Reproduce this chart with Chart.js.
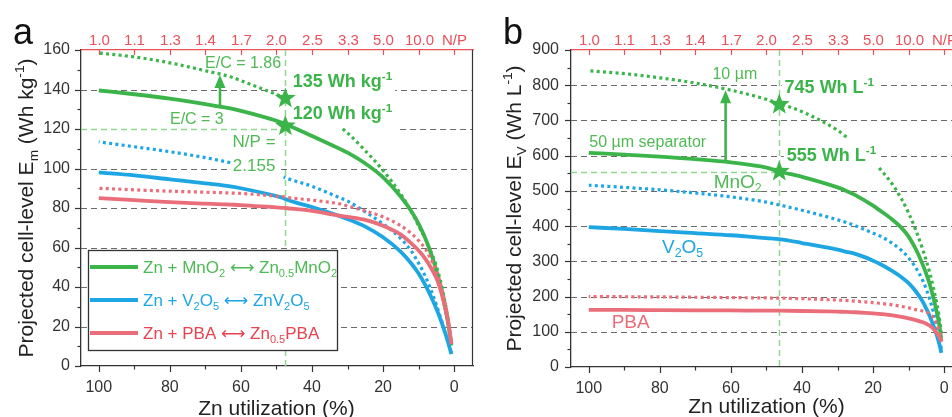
<!DOCTYPE html>
<html><head><meta charset="utf-8">
<script src="https://cdn.jsdelivr.net/npm/chart.js@4"></script>
<style>
html,body{margin:0;padding:0;background:#fff;overflow:hidden;width:952px;height:417px;}
#p1{position:absolute;left:0;top:0;}
#p2{position:absolute;left:480px;top:0;}
</style></head><body>
<canvas id="p1" width="480" height="417"></canvas>
<canvas id="p2" width="500" height="417"></canvas>
<script>
// ---------- DATA ----------
// Zn utilization (%) sample points, panel a
const utilA = [100, 90, 80, 70, 63, 60, 50, 48, 47.5, 40, 32, 30, 25, 20, 15, 12, 10, 8, 6, 5, 4, 3, 2, 1.5, 1, 0.8];
const mno2SolidA = [139.5,137.6,135.4,132.6,130.4,129.2,124.2,122.9,122.5,116.5,109.8,108,102.5,95.5,85.7,78.2,72,64.2,54.2,48.2,41.4,33.6,24.6,19.4,13.4,10.4];
const mno2DotA   = [158.5,156.5,153.5,149.5,146.5,144.5,137.5,136,135.5,null,121,118,109,99,87,78,71,64,55.5,50.5,44,36,27,21.5,14.5,10.5];
const v2o5SolidA = [98,96.5,94.5,92.5,91,90,86,85,84.5,80.5,75.8,74.5,70.6,65.2,57.8,51.8,46.8,40.6,33.2,29,24.4,19.3,13.7,10.6,7.4,6];
const v2o5DotA   = [113.5,111,108.5,105.5,103,null,null,95.7,95.3,91,85,83.5,78,72,64.5,58,52,45,36,31,25.5,20,14,11,8,6.5];
const pbaSolidA  = [85,84,83,82.2,81.7,81.5,80.3,80.1,80,78.5,76,75.5,74,71,66.5,62,58.5,54,48,44.5,39.5,33,25,20,14,11];
const pbaDotA    = [90,89.2,88.5,88,87.6,87.4,86,85.7,85.5,84,82,81,78.5,75.5,71,67,63.5,59,52,48,42.5,35.5,27,21.5,15,12];

// Zn utilization (%) sample points, panel b
const utilB = [100, 90, 80, 70, 60, 50, 46.4, 40, 30, 27.5, 25, 20, 18.3, 15, 12, 10, 8, 6, 5, 4, 3, 2, 1.5, 1, 0.8];
const mno2SolidB = [608,603,597,590,581,566,555,540,510,500,488,458,446,422,395,370,335,290,264,233,196,152,127,92,74];
const mno2DotB   = [841,833,821,806,786,760,748,725,672,653,null,null,565,525,477,437,389,333,301,265,224,176,148,113,95];
const v2o5DotB   = [516,510,503,494,483,468,460,445,418,410,401,380,373,354,331,310,282,245,220,190,155,113,90,64,52];
const v2o5SolidB = [397,392,386,380,374,366,363,352,333,327,321,302,294,275,255,238,215,185,165,143,117,88,70,50,40];
const pbaDotB    = [200,199.5,199,198,197,196,195.5,194,190,189,187,183,181,177,172,168,163,159,156,150,140,118,105,85,72];
const pbaSolidB  = [162,162,161.5,161,160.5,160,159.8,159,157,156.5,155.5,152,151,147,142,138,133,127,123,117,108,95,88,78,72];

// axis ticks
const xMajorTicks = [0, 20, 40, 60, 80, 100];
const xMinorTicks = [10, 30, 50, 70, 90];
const npTickUtil = [100, 90, 80, 70, 60, 50, 40, 30, 20, 10, 0];
const npLabels = ['1.0','1.1','1.3','1.4','1.7','2.0','2.5','3.3','5.0','10.0','N/P'];
const yTicksA = [0,20,40,60,80,100,120,140,160];
const yMinorA = [10,30,50,70,90,110,130,150];
const yTicksB = [0,100,200,300,400,500,600,700,800,900];
const yMinorB = [50,150,250,350,450,550,650,750,850];

// highlighted points (N/P = 2.155)
const starsA = [[47.5,135.5],[47.5,121.5]];
const starsB = [[46.4,745],[46.4,555]];

// ---------- STYLE ----------
const FAM = "'Liberation Sans', Arial, Helvetica, 'DejaVu Sans', sans-serif";
const GREEN = '#3bb44a', GREEN_T = '#4fba55', GREEN_REF = '#8fd68f';
const BLUE = '#1ea6e3', PINK = '#ea6e79', RED_T = '#e8434e', AXRED = '#e8505a';
const AX = '#333333', GRID = '#6a6a6a';
const ARROW = ' \u27F7 ';

Chart.defaults.font.family = FAM;
Chart.defaults.color = '#333';

function ds(U, V, color, dotted){
  const pts = U.map((u,i)=>({x:u, y:V[i]})).reverse();
  return {data: pts, borderColor: color, borderWidth: dotted ? 3.2 : 3.8,
    borderDash: dotted ? [3,3.3] : [], borderCapStyle:'butt',
    pointRadius:0, cubicInterpolationMode:'monotone', spanGaps:false, fill:false};
}

function measureRich(ctx, segs, size, weight){
  let w = 0;
  segs.forEach(([t,m])=>{ const s = m ? size*0.65 : size; ctx.font = `${weight} ${s}px ${FAM}`; w += ctx.measureText(t).width; });
  return w;
}
function drawRich(ctx, x, y, segs, size, weight, color, align){
  const w = measureRich(ctx, segs, size, weight);
  let cx = align==='center' ? x - w/2 : align==='right' ? x - w : x;
  const base = y + size*0.36;
  ctx.fillStyle = color; ctx.textBaseline = 'alphabetic'; ctx.textAlign = 'left';
  segs.forEach(([t,m])=>{
    const s = m ? size*0.65 : size;
    ctx.font = `${weight} ${s}px ${FAM}`;
    const by = base + (m==='sub' ? size*0.24 : m==='sup' ? -size*0.42 : 0);
    ctx.fillText(t, cx, by);
    cx += ctx.measureText(t).width;
  });
  return w;
}
function drawStar(ctx, cx, cy, R, r){
  ctx.beginPath();
  for(let i=0;i<10;i++){
    const ang = -Math.PI/2 + i*Math.PI/5;
    const rad = i%2===0 ? R : r;
    const px = cx + rad*Math.cos(ang), py = cy + rad*Math.sin(ang);
    if(i===0) ctx.moveTo(px,py); else ctx.lineTo(px,py);
  }
  ctx.closePath(); ctx.fill();
}
function line(ctx,x0,y0,x1,y1){ctx.beginPath();ctx.moveTo(x0,y0);ctx.lineTo(x1,y1);ctx.stroke();}

function labelBox(ctx, L, x, y){
  const w = measureRich(ctx, L.segs, L.size, L.weight||'normal');
  let left = L.align==='center' ? x - w/2 : L.align==='right' ? x - w : x;
  return {x:left-3, y:y-L.size*0.75, w:w+6, h:L.size*1.45};
}

function makePlugin(cfg){
  return {
    id:'panel'+cfg.letter,
    beforeDatasetsDraw(chart){
      const {ctx, chartArea:a, scales:{x,y}} = chart;
      ctx.save();
      ctx.strokeStyle = GRID; ctx.lineWidth = 1.2; ctx.setLineDash([6,4]);
      cfg.gridVals.forEach(v=>{
        const py = Math.round(y.getPixelForValue(v))+0.5;
        const x0 = cfg.gridFrom && cfg.gridFrom[v]!=null ? x.getPixelForValue(cfg.gridFrom[v]) : a.left;
        line(ctx, x0, py, a.right, py);
      });
      ctx.setLineDash([]);
      ctx.fillStyle = '#fff';
      cfg.labels.forEach(L=>{
        if(!L.box) return;
        const b = labelBox(ctx, L, x.getPixelForValue(L.u), y.getPixelForValue(L.e));
        ctx.fillRect(b.x, b.y, b.w, b.h);
      });
      ctx.strokeStyle = GREEN_REF; ctx.lineWidth = 1.5; ctx.setLineDash([6,4]);
      const vx = Math.round(x.getPixelForValue(cfg.vRef))+0.5;
      line(ctx, vx, a.top, vx, a.bottom);
      const hy = Math.round(y.getPixelForValue(cfg.hRef[1]))+0.5;
      line(ctx, a.left, hy, x.getPixelForValue(cfg.hRef[0]), hy);
      ctx.restore();
    },
    afterDatasetsDraw(chart){
      const {ctx, chartArea:a, scales:{x,y}} = chart;
      ctx.save();
      cfg.labels.forEach(L=>{
        drawRich(ctx, x.getPixelForValue(L.u), y.getPixelForValue(L.e), L.segs, L.size, L.weight||'normal', L.color, L.align);
      });
      ctx.strokeStyle = GREEN; ctx.fillStyle = GREEN; ctx.lineWidth = 2.6;
      cfg.arrows.forEach(([u,e0,e1])=>{
        const px = x.getPixelForValue(u), y0 = y.getPixelForValue(e0), y1 = y.getPixelForValue(e1);
        line(ctx, px, y0, px, y1+10);
        ctx.beginPath(); ctx.moveTo(px, y1); ctx.lineTo(px-5.5, y1+13); ctx.lineTo(px+5.5, y1+13); ctx.closePath(); ctx.fill();
      });
      ctx.fillStyle = GREEN;
      cfg.stars.forEach(([u,e])=> drawStar(ctx, x.getPixelForValue(u), y.getPixelForValue(e), 11, 4.6));
      if(cfg.legend){
        const L = cfg.legend;
        ctx.fillStyle = '#fff'; ctx.fillRect(L.x, L.y, L.w, L.h);
        ctx.strokeStyle = AX; ctx.lineWidth = 1.3; ctx.strokeRect(L.x+0.5, L.y+0.5, L.w, L.h);
        L.rows.forEach((r,i)=>{
          const ry = L.y + L.first + i*L.step;
          ctx.strokeStyle = r.line; ctx.lineWidth = 4.2;
          line(ctx, L.x+2, ry, L.x+50, ry);
          drawRich(ctx, L.x+55, ry, r.segs, 17, 'normal', r.text, 'left');
        });
      }
      ctx.strokeStyle = AX; ctx.lineWidth = 1.2;
      xMajorTicks.forEach(v=>{ const p = Math.round(x.getPixelForValue(v))+0.5; line(ctx,p,a.bottom,p,a.bottom+6); });
      xMinorTicks.forEach(v=>{ const p = Math.round(x.getPixelForValue(v))+0.5; line(ctx,p,a.bottom,p,a.bottom+3.5); });
      cfg.yMajor.forEach(v=>{ const p = Math.round(y.getPixelForValue(v))+0.5; line(ctx,a.left-6,p,a.left,p); });
      cfg.yMinor.forEach(v=>{ const p = Math.round(y.getPixelForValue(v))+0.5; line(ctx,a.left-3.5,p,a.left,p); });
      line(ctx, Math.round(a.right)-0.5, a.top, Math.round(a.right)-0.5, a.bottom);
      ctx.strokeStyle = AXRED;
      npTickUtil.forEach((v,i)=>{
        const p = Math.round(x.getPixelForValue(v))+0.5;
        line(ctx,p,a.top,p,a.top+5);
        drawRich(ctx, p, 40, [[npLabels[i],'']], 15, 'normal', AXRED, 'center');
      });
      drawRich(ctx, x.getPixelForValue(cfg.xTitleU), cfg.xTitleY, [['Zn utilization (%)','']], 21, 'normal', '#222', 'center');
      ctx.save(); ctx.translate(cfg.yTitleX, (a.top+a.bottom)/2); ctx.rotate(-Math.PI/2);
      drawRich(ctx, 0, 0, cfg.yTitle, 21, 'normal', '#222', 'center');
      ctx.restore();
      ctx.fillStyle = '#111'; ctx.font = `36px ${FAM}`; ctx.textAlign='left'; ctx.textBaseline='alphabetic';
      ctx.fillText(cfg.letter, cfg.letterX, 44);
      ctx.restore();
    }
  };
}

function scales(yMax, yTicks, yWidth, xHeight, yPad){
  return {
    x: {type:'linear', position:'bottom', min:-5.3, max:105, reverse:true,
        grid:{display:false, drawTicks:false}, border:{display:true, color:AX, width:1.3},
        ticks:{font:{size:16}, color:'#333', padding:12, autoSkip:false, maxRotation:0, minRotation:0},
        afterBuildTicks: s => { s.ticks = xMajorTicks.map(v=>({value:v})); },
        afterFit: s => { s.height = xHeight; }},
    xTop: {type:'linear', position:'top', min:-5.3, max:105, reverse:true,
        grid:{display:false, drawTicks:false}, border:{display:true, color:AXRED, width:1.3},
        ticks:{display:false},
        afterFit: s => { s.height = 50; }},
    y: {type:'linear', position:'left', min:0, max:yMax,
        grid:{display:false, drawTicks:false}, border:{display:true, color:AX, width:1.3},
        ticks:{font:{size:16}, color:'#333', padding:yPad},
        afterBuildTicks: s => { s.ticks = yTicks.map(v=>({value:v})); },
        afterFit: s => { s.width = yWidth; }}
  };
}

// ---------- PANEL a ----------
const cfgA = {
  letter:'a', letterX:13, yTitleX:25, xTitleU:50, xTitleY:407,
  yTitle:[['Projected cell-level E',''],['m','sub'],[' (Wh kg',''],['-1','sup'],[')','']],
  yMajor:yTicksA, yMinor:yMinorA,
  gridVals:[20,40,60,80,100,120,140], gridFrom:{120:15.2},
  vRef:47.5, hRef:[47.5,120],
  stars:starsA,
  arrows:[[65.9,131.5,147.3]],
  labels:[
    {u:59.4, e:153.9, segs:[['E/C = 1.86','']], size:16, color:GREEN_T, align:'center'},
    {u:72.4, e:125.6, segs:[['E/C = 3','']], size:16, color:GREEN_T, align:'center'},
    {u:45.4, e:144.3, segs:[['135 Wh kg',''],['-1','sup']], size:18, weight:'bold', color:GREEN, align:'left', box:true},
    {u:45.4, e:128.1, segs:[['120 Wh kg',''],['-1','sup']], size:18, weight:'bold', color:GREEN, align:'left', box:true},
    {u:56.3, e:113.9, segs:[['N/P =','']], size:17, color:GREEN_T, align:'center', box:true},
    {u:56.3, e:102, segs:[['2.155','']], size:17, color:GREEN_T, align:'center', box:true}
  ],
  legend:{x:88, y:250, w:249, h:100, first:17, step:33, rows:[
    {line:GREEN, text:GREEN_T, segs:[['Zn + MnO',''],['2','sub'],[ARROW+'Zn',''],['0.5','sub'],['MnO',''],['2','sub']]},
    {line:BLUE, text:BLUE, segs:[['Zn + V',''],['2','sub'],['O',''],['5','sub'],[ARROW+'ZnV',''],['2','sub'],['O',''],['5','sub']]},
    {line:PINK, text:RED_T, segs:[['Zn + PBA'+ARROW+'Zn',''],['0.5','sub'],['PBA','']]}
  ]}
};

new Chart(document.getElementById('p1'), {
  type:'line',
  data:{datasets:[
    ds(utilA, pbaDotA, PINK, true), ds(utilA, pbaSolidA, PINK, false),
    ds(utilA, v2o5DotA, BLUE, true), ds(utilA, v2o5SolidA, BLUE, false),
    ds(utilA, mno2DotA, GREEN, true), ds(utilA, mno2SolidA, GREEN, false)
  ]},
  options:{responsive:false, animation:false, devicePixelRatio:1,
    layout:{padding:{left:0, right:7, top:0, bottom:0}},
    plugins:{legend:{display:false}, tooltip:{enabled:false}},
    scales: scales(160, yTicksA, 81, 51, 11)},
  plugins:[makePlugin(cfgA)]
});

// ---------- PANEL b ----------
const cfgB = {
  letter:'b', letterX:23, yTitleX:33, xTitleU:50, xTitleY:405,
  yTitle:[['Projected cell-level E',''],['V','sub'],[' (Wh L',''],['-1','sup'],[')','']],
  yMajor:yTicksB, yMinor:yMinorB,
  gridVals:[100,200,300,400,500,600,700,800], gridFrom:{},
  vRef:46.4, hRef:[46.4,555],
  stars:starsB,
  arrows:[[61.5,584,786]],
  labels:[
    {u:58.9, e:834.7, segs:[['10 \u00b5m','']], size:16, color:GREEN_T, align:'center'},
    {u:83.4, e:641.6, segs:[['50 \u00b5m separator','']], size:16, color:GREEN_T, align:'center'},
    {u:44.9, e:795, segs:[['745 Wh L',''],['-1','sup']], size:18, weight:'bold', color:GREEN, align:'left', box:true},
    {u:44.3, e:603, segs:[['555 Wh L',''],['-1','sup']], size:18, weight:'bold', color:GREEN, align:'left', box:true},
    {u:58.1, e:528, segs:[['MnO',''],['2','sub']], size:19, color:GREEN_T, align:'center'},
    {u:73.6, e:343.5, segs:[['V',''],['2','sub'],['O',''],['5','sub']], size:19, color:BLUE, align:'center'},
    {u:88.2, e:130.6, segs:[['PBA','']], size:19, color:PINK, align:'center'}
  ],
  legend:null
};

new Chart(document.getElementById('p2'), {
  type:'line',
  data:{datasets:[
    ds(utilB, pbaDotB, PINK, true), ds(utilB, pbaSolidB, PINK, false),
    ds(utilB, v2o5DotB, BLUE, true), ds(utilB, v2o5SolidB, BLUE, false),
    ds(utilB, mno2DotB, GREEN, true), ds(utilB, mno2SolidB, GREEN, false)
  ]},
  options:{responsive:false, animation:false, devicePixelRatio:1,
    layout:{padding:{left:0, right:17, top:0, bottom:0}},
    plugins:{legend:{display:false}, tooltip:{enabled:false}},
    scales: scales(900, yTicksB, 91, 50, 12)},
  plugins:[makePlugin(cfgB)]
});
</script>
</body></html>
